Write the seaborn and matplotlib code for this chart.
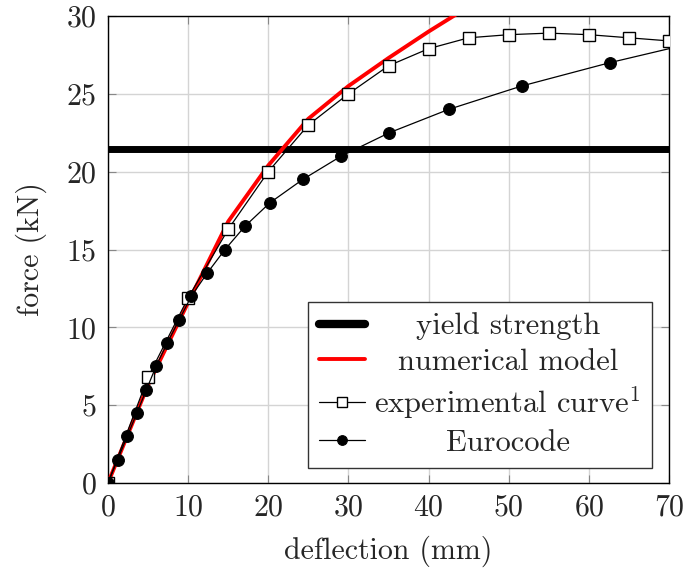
import matplotlib
matplotlib.use("Agg")
import matplotlib.pyplot as plt
import seaborn as sns
import pandas as pd
import numpy as np

# ---- data ----
yield_strength = 21.45
num_x = [0, 5, 10, 15, 20, 25, 30, 35, 40, 45]
num_y = [0, 6.3, 11.6, 16.8, 20.4, 23.4, 25.5, 27.3, 29.0, 30.6]
exp_x = [0, 5, 10, 15, 20, 25, 30, 35, 40, 45, 50, 55, 60, 65, 70]
exp_y = [0, 6.8, 11.9, 16.3, 20.0, 23.0, 25.0, 26.8, 27.9, 28.6, 28.8, 28.9, 28.8, 28.6, 28.4]
euro_x = [0, 1.2, 2.4, 3.6, 4.8, 6.0, 7.4, 8.9, 10.4, 12.4, 14.6, 17.1, 20.2, 24.3, 29.1, 35.1, 42.5, 51.6, 62.6, 70]
euro_y = [0, 1.5, 3.0, 4.5, 6.0, 7.5, 9.0, 10.5, 12.0, 13.5, 15.0, 16.5, 18.0, 19.5, 21.0, 22.5, 24.0, 25.5, 27.0, 27.9]
x_ticks = [0, 10, 20, 30, 40, 50, 60, 70]
y_ticks = [0, 5, 10, 15, 20, 25, 30]

sns.set_style("ticks")
plt.rcParams["font.family"] = ["cmr10", "DejaVu Serif"]
plt.rcParams["mathtext.fontset"] = "cm"
plt.rcParams["axes.formatter.use_mathtext"] = True

FS = 21.5
LFS = 22
fig = plt.figure(figsize=(6.86, 5.74), dpi=100)
ax = fig.add_axes([108 / 686, 1 - 483 / 574, (669 - 108) / 686, (483 - 16) / 574])

ax.axhline(yield_strength, color="black", lw=5, label="yield strength", zorder=3)
sns.lineplot(x=num_x, y=num_y, ax=ax, color="red", lw=2.8, sort=False,
             label="numerical model", zorder=4)
sns.lineplot(x=exp_x, y=exp_y, ax=ax, color="black", lw=0.9, sort=False,
             marker="s", markersize=8, markerfacecolor="white", markeredgecolor="black",
             markeredgewidth=1.0, label="experimental curve$^1$", zorder=5)
sns.lineplot(x=euro_x, y=euro_y, ax=ax, color="black", lw=0.9, sort=False,
             marker="o", markersize=8.5, markevery=list(range(len(euro_x) - 1)),
             markeredgecolor="black", label="Eurocode", zorder=6)

ax.set_xlim(0, 70)
ax.set_ylim(0, 30)
ax.set_xticks(x_ticks)
ax.set_yticks(y_ticks)
ax.grid(True, color="#d4d4d4", lw=1.0)
ax.set_axisbelow(True)
for s in ax.spines.values():
    s.set_color("black")
    s.set_linewidth(1.0)
ax.tick_params(direction="in", top=True, right=True, length=6, width=0.8,
               color="#888888", labelsize=FS, pad=8)
ax.set_xlabel("deflection (mm)", fontsize=FS, labelpad=10)
ax.set_ylabel("force (kN)", fontsize=FS, labelpad=14)

leg = ax.legend(loc="lower right", bbox_to_anchor=(0.97, 0.032), fontsize=LFS,
                frameon=True, fancybox=False, edgecolor="#333333", framealpha=1,
                handlelength=1.5, handletextpad=0.3, labelspacing=0.27, borderpad=0.36,
                borderaxespad=0)
leg.get_frame().set_linewidth(1.0)
for h in leg.legend_handles:
    if hasattr(h, "set_markersize"):
        h.set_markersize(7)
    if h.get_label() == "yield strength" or h.get_linewidth() >= 5:
        h.set_linewidth(6)

# center legend labels within their column
fig.canvas.draw()
r = fig.canvas.get_renderer()
texts = leg.get_texts()
widths = [t.get_window_extent(r).width for t in texts]
W = max(widths)
for t, w in zip(texts, widths):
    t.set_x((W - w) / 2)

fig.savefig("out.png", dpi=100)
